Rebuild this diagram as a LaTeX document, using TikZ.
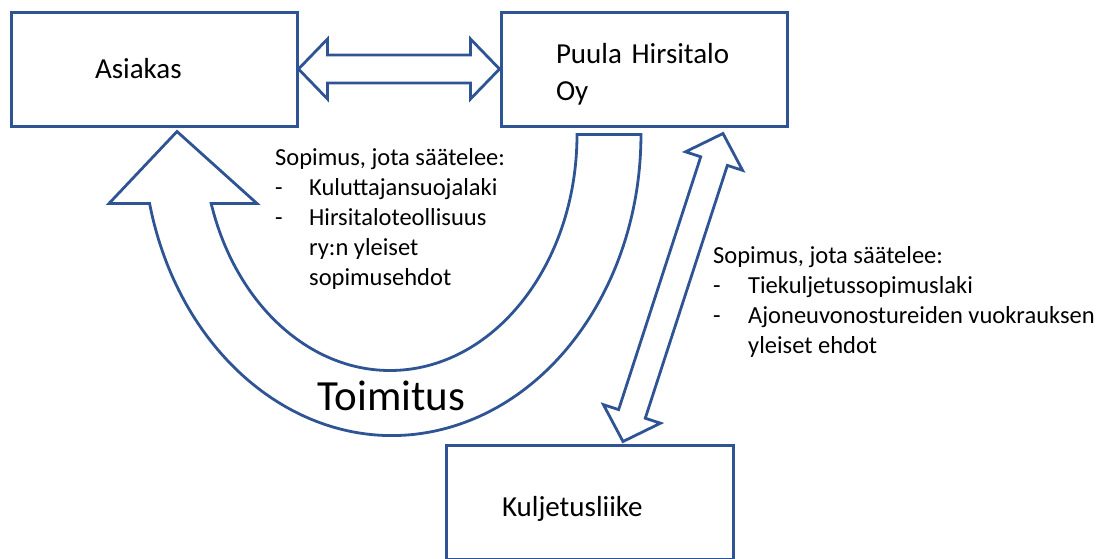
\documentclass[tikz,border=0pt]{standalone}
\usepackage{fontspec}
\setmainfont{Carlito}
\usepackage{tikz}
\usetikzlibrary{calc,positioning}
\definecolor{reuna}{RGB}{47,84,148}

\newcommand{\leveanuoli}[2]{%
  \draw[nuoli] (#1) -- ($(#1)!29pt!(#2)!30pt!90:(#2)$) -- ($(#1)!29pt!(#2)!14pt!90:(#2)$)
    -- ($(#2)!29pt!(#1)!14pt!-90:(#1)$) -- ($(#2)!29pt!(#1)!30pt!-90:(#1)$) -- (#2)
    -- ($(#2)!29pt!(#1)!30pt!90:(#1)$) -- ($(#2)!29pt!(#1)!14pt!90:(#1)$)
    -- ($(#1)!29pt!(#2)!14pt!-90:(#2)$) -- ($(#1)!29pt!(#2)!30pt!-90:(#2)$) -- cycle;}

\begin{document}
\begin{tikzpicture}[x=1pt, y=-1pt,
      laatikko/.style={draw=reuna, line width=3pt, minimum height=114pt, inner sep=0pt,
        align=left, font=\fontsize{29}{37}\selectfont},
      nuoli/.style={draw=reuna, line width=2.8pt, line join=miter},
      selite/.style={anchor=base west, inner sep=0pt, align=left,
        font=\fontsize{24.5}{30}\selectfont}]
    \clip (0,0) rectangle (1112,558);
    \node (asiakas) [laatikko, minimum width=286pt, text width=118pt] at (154,69) {Asiakas};
    \node (puula) [laatikko, minimum width=286pt, text width=176pt] at (644,69) {\rule{0pt}{30pt}Puula Hirsitalo\\Oy};
    \node (kuljetus) [laatikko, minimum width=287pt, text width=175pt] at (589.5,502) {\rule{0pt}{34pt}Kuljetusliike};

    \leveanuoli{asiakas.east}{puula.west}
    \coordinate (ylos) at ([xshift=79pt,yshift=-6pt]puula.south);
    \coordinate (alas) at ([xshift=33.5pt,yshift=2pt]kuljetus.north);
    \leveanuoli{ylos}{alas}

    \coordinate (kaari) at ([xshift=-67pt,yshift=-7pt]puula.south);
    \coordinate (karki) at ([xshift=23pt,yshift=-4pt]asiakas.south);
    \draw[nuoli] (kaari) arc[start angle=0, end angle=163, x radius=187, y radius=236]
      -- ($(karki)+(80,72)$) -- (karki) -- ($(karki)+(-68,72)$) -- ++(40.6,0)
      arc[start angle=166.75, end angle=0, x radius=249, y radius=301] -- cycle;

    \node (toimitus) [anchor=base, inner sep=0pt, font=\fontsize{43}{50}\selectfont] at (391.5,410) {Toimitus};
    % base = baseline of the last line
    \node (ehdot1) [selite] at (275,285) {Sopimus, jota säätelee:\\
      \makebox[34pt][l]{-}Kuluttajansuojalaki\\
      \makebox[34pt][l]{-}Hirsitaloteollisuus\\
      \hspace*{34pt}ry:n yleiset\\
      \hspace*{34pt}sopimusehdot};
    \node (ehdot2) [selite] at (713,353) {Sopimus, jota säätelee:\\
      \makebox[35pt][l]{-}Tiekuljetussopimuslaki\\
      \makebox[35pt][l]{-}Ajoneuvonostureiden vuokrauksen\\
      \hspace*{35pt}yleiset ehdot};
  \end{tikzpicture}
\end{document}
